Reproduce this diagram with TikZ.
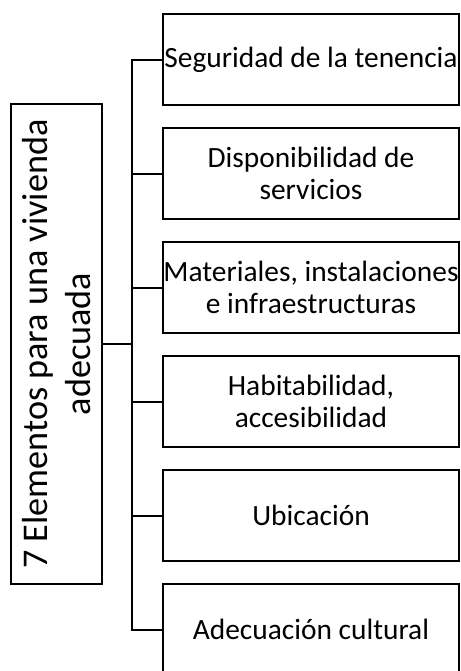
\documentclass[tikz,border=0pt]{standalone}
\usepackage{fontspec}
\setmainfont{Carlito}
\usepackage{tikz}
\usetikzlibrary{calc,
	positioning,
	shapes}
\tikzstyle{el}=[draw, line width=1pt, minimum width=148pt, minimum height=45.5pt,
		inner sep=0, align=center, font=\fontsize{14.7}{16}\selectfont]
\tikzstyle{hd}=[draw, line width=1pt, rotate=90, minimum width=240pt,
		minimum height=45.5pt, inner sep=0, align=center,
		font=\fontsize{18.1}{21.5}\selectfont]
\tikzstyle{ln}=[line width=1pt]

\begin{document}
\begin{tikzpicture}
                \useasboundingbox (0,0) rectangle (230.5pt,-335.5pt);
                % main box
                \node[hd] (main) at (28.25pt,-172pt) {7 Elementos para una vivienda\\adecuada};
                % elements
                \node[el] (e1) at (155.5pt,-29.75pt) {Seguridad de la tenencia};
                \node[el, below=10.5pt of e1] (e2) {Disponibilidad de\\servicios};
                \node[el, below=10.5pt of e2] (e3) {Materiales, instalaciones\\e infraestructuras};
                \node[el, below=10.5pt of e3] (e4) {Habitabilidad,\\accesibilidad};
                \node[el, below=10.5pt of e4] (e5) {Ubicación};
                \node[el, below=10.5pt of e5] (e6) {Adecuación cultural};
                \coordinate (tr) at (66pt,0);
                % connectors
                \draw[ln] (e1.west) -- (e1.west -| tr) -- (e6.west -| tr) -- (e6.west);
                \foreach \i in {2,...,5}
                    \draw[ln] (e\i.west) -- (e\i.west -| tr);
                \draw[ln] (main.south) -- (main.south -| tr);
            \end{tikzpicture}
\end{document}
